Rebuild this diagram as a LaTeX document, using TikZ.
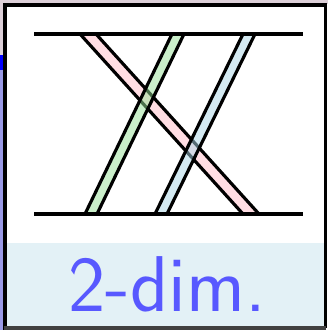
\documentclass[tikz,border=0pt]{standalone}
\usepackage{tikz}

\definecolor{bandpink}{RGB}{255,221,227}
\definecolor{bandgreen}{RGB}{150,225,150}
\definecolor{bandblue}{RGB}{170,214,230}
\definecolor{labelbg}{RGB}{227,241,246}
\definecolor{labeltext}{RGB}{88,88,255}
\definecolor{edgegray}{RGB}{221,208,216}
\definecolor{edgeblue}{RGB}{154,154,230}

\tikzset{
  band/.style={draw=black, line width=0.9pt, line join=miter},
  rail/.style={draw=black, line width=0.9pt},
}

\begin{document}
\begin{tikzpicture}[x=0.01cm, y=-0.01cm]

  \useasboundingbox (0,0) rectangle (328,330);

  %=====================================================================
  % cropped surroundings and frame
  %=====================================================================
  \fill[edgegray] (0,0) rectangle (328,4);
  \fill[edgegray] (0,0) rectangle (3,55);
  \fill[blue] (0,55) rectangle (3,70);
  \fill[edgeblue] (0,70) rectangle (3,330);
  \fill[white] (5,5) rectangle (325,243);
  \fill[labelbg] (5,243) rectangle (325,326);
  \draw[line width=0.9pt] (5,330) -- (5,5) -- (325.5,5) -- (325.5,328);
  \draw[line width=1.2pt, black!75] (4,328.5) -- (326,328.5);

  %=====================================================================
  % bands between the two rails
  %=====================================================================
  % pink band, falling to the right
  \draw[band, fill=bandpink] (80,34) -- (96,34) -- (259,214) -- (243,214) -- cycle;
  % green band, rising to the right
  \draw[band, fill=bandgreen, fill opacity=0.5] (85,214) -- (97,214) -- (184,34) -- (172,34) -- cycle;
  % blue band, rising to the right
  \draw[band, fill=bandblue, fill opacity=0.5] (155,214) -- (167,214) -- (255,34) -- (243,34) -- cycle;

  % rails
  \draw[rail] (34,34) -- (303,34);
  \draw[rail] (34,214) -- (303,214);

  %=====================================================================
  % label
  %=====================================================================
  \node[text=labeltext, font=\fontsize{22.5}{27}\sffamily, anchor=base] (lbl) at (167,311) {2-dim.};

\end{tikzpicture}
\end{document}
